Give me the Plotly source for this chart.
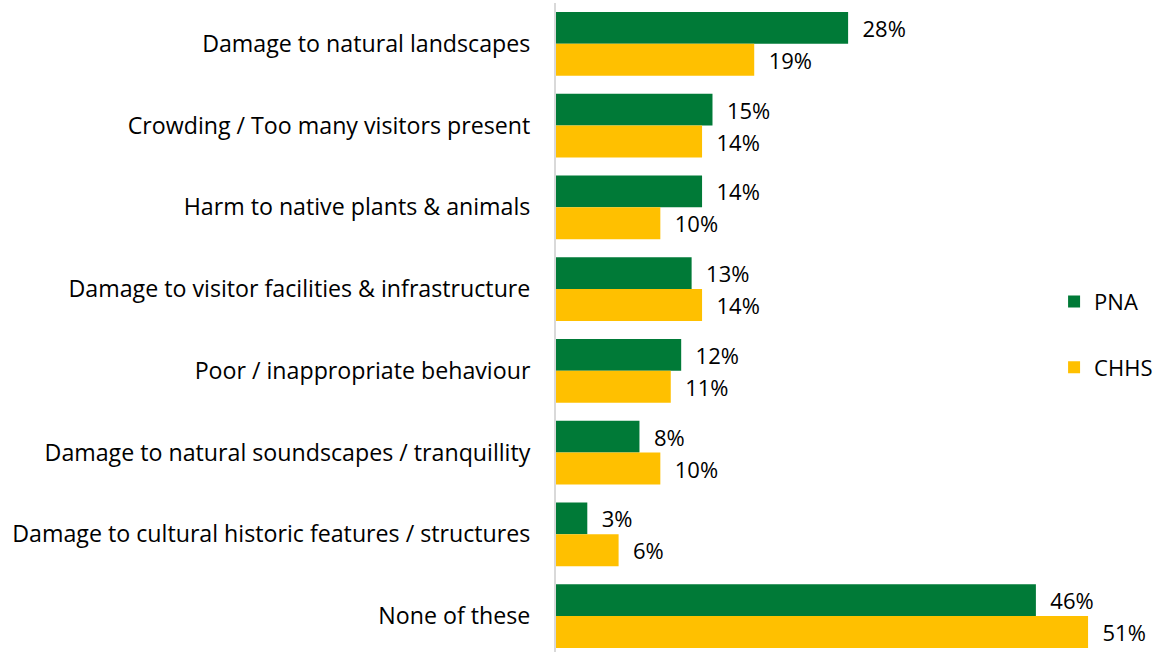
import plotly.graph_objects as go

categories = [
    "Damage to natural landscapes",
    "Crowding / Too many visitors present",
    "Harm to native plants & animals",
    "Damage to visitor facilities & infrastructure",
    "Poor / inappropriate behaviour",
    "Damage to natural soundscapes / tranquillity",
    "Damage to cultural historic features / structures",
    "None of these",
]
pna = [28, 15, 14, 13, 12, 8, 3, 46]
chhs = [19, 14, 10, 14, 11, 10, 6, 51]

FONT = "Open Sans"
FS_TICK = 23.2
FS_LBL = 22
fig = go.Figure()
fig.add_trace(go.Bar(
    name="PNA", y=categories, x=pna, orientation="h",
    marker=dict(color="#007A37", line=dict(width=0)),
    text=["  %d%%" % v for v in pna], textposition="outside",
    textfont=dict(family=FONT, size=FS_LBL, color="#000000"),
    cliponaxis=False, legendgroup="a",
))
fig.add_trace(go.Bar(
    name="CHHS", y=categories, x=chhs, orientation="h",
    marker=dict(color="#FFC000", line=dict(width=0)),
    text=["  %d%%" % v for v in chhs], textposition="outside",
    textfont=dict(family=FONT, size=FS_LBL, color="#000000"),
    cliponaxis=False, legendgroup="b",
))

fig.update_layout(
    width=1159, height=652,
    barmode="group", bargap=0.22, bargroupgap=0,
    plot_bgcolor="white", paper_bgcolor="white",
    margin=dict(l=556, r=0, t=3, b=0, autoexpand=False),
    font=dict(family=FONT, size=FS_LBL, color="#000000"),
    showlegend=True,
    legend=dict(
        x=0.826, y=0.572, xanchor="left", yanchor="top",
        font=dict(family=FONT, size=FS_LBL, color="#000000"),
        tracegroupgap=34, traceorder="grouped",
        itemwidth=30,
    ),
    xaxis=dict(range=[0, 57.8], showgrid=False, zeroline=False,
               showticklabels=False, showline=False, ticks="",
               automargin=False),
    yaxis=dict(type="category", range=[7.44, -0.5], showgrid=False,
               zeroline=False, showline=True, linecolor="#D9D9D9",
               linewidth=2, ticks="", ticklabelstandoff=19,
               automargin=False,
               tickfont=dict(family=FONT, size=FS_TICK, color="#000000")),
)

fig.write_html(
    "out.html",
    config={"displayModeBar": False},
    post_script="document.body.style.margin='0';document.body.style.overflow='hidden';",
)
